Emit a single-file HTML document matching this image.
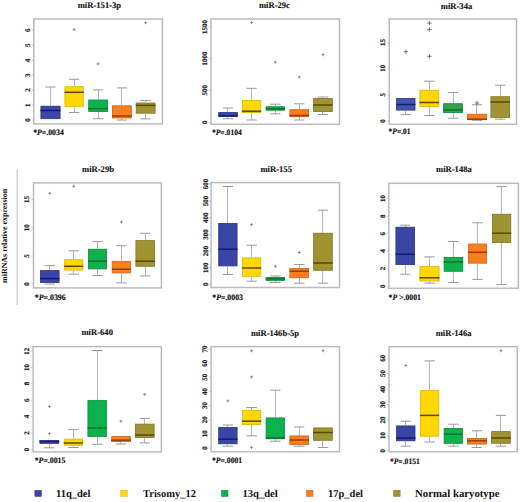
<!DOCTYPE html>
<html><head><meta charset="utf-8"><style>
html,body{margin:0;padding:0;background:#fff;}
body{width:520px;height:502px;overflow:hidden;font-family:"Liberation Serif",serif;}
svg{display:block;text-rendering:geometricPrecision;}
</style></head><body>
<svg width="520" height="502" viewBox="0 0 520 502">
<rect width="520" height="502" fill="#fff"/>
<text x="99.4" y="7.7" font-family='"Liberation Serif", serif' font-weight="bold" font-size="8.6" text-anchor="middle" fill="#111" stroke="#111" stroke-width="0.12">miR-151-3p</text>
<rect x="33.8" y="19.0" width="128.6" height="104.9" fill="none" stroke="#bcbcbc" stroke-width="1.5"/>
<line x1="31.8" y1="120.0" x2="33.8" y2="120.0" stroke="#bcbcbc" stroke-width="0.8"/>
<text transform="translate(30.0,120.0) rotate(-90)" font-family='"Liberation Serif", serif' font-weight="bold" font-size="7.0" text-anchor="middle" fill="#1a1a1a" stroke="#1a1a1a" stroke-width="0.2">0</text>
<line x1="31.8" y1="105.2" x2="33.8" y2="105.2" stroke="#bcbcbc" stroke-width="0.8"/>
<text transform="translate(30.0,105.2) rotate(-90)" font-family='"Liberation Serif", serif' font-weight="bold" font-size="7.0" text-anchor="middle" fill="#1a1a1a" stroke="#1a1a1a" stroke-width="0.2">1</text>
<line x1="31.8" y1="90.0" x2="33.8" y2="90.0" stroke="#bcbcbc" stroke-width="0.8"/>
<text transform="translate(30.0,90.0) rotate(-90)" font-family='"Liberation Serif", serif' font-weight="bold" font-size="7.0" text-anchor="middle" fill="#1a1a1a" stroke="#1a1a1a" stroke-width="0.2">2</text>
<line x1="31.8" y1="75.2" x2="33.8" y2="75.2" stroke="#bcbcbc" stroke-width="0.8"/>
<text transform="translate(30.0,75.2) rotate(-90)" font-family='"Liberation Serif", serif' font-weight="bold" font-size="7.0" text-anchor="middle" fill="#1a1a1a" stroke="#1a1a1a" stroke-width="0.2">3</text>
<line x1="31.8" y1="60.5" x2="33.8" y2="60.5" stroke="#bcbcbc" stroke-width="0.8"/>
<text transform="translate(30.0,60.5) rotate(-90)" font-family='"Liberation Serif", serif' font-weight="bold" font-size="7.0" text-anchor="middle" fill="#1a1a1a" stroke="#1a1a1a" stroke-width="0.2">4</text>
<line x1="31.8" y1="45.3" x2="33.8" y2="45.3" stroke="#bcbcbc" stroke-width="0.8"/>
<text transform="translate(30.0,45.3) rotate(-90)" font-family='"Liberation Serif", serif' font-weight="bold" font-size="7.0" text-anchor="middle" fill="#1a1a1a" stroke="#1a1a1a" stroke-width="0.2">5</text>
<line x1="31.8" y1="30.2" x2="33.8" y2="30.2" stroke="#bcbcbc" stroke-width="0.8"/>
<text transform="translate(30.0,30.2) rotate(-90)" font-family='"Liberation Serif", serif' font-weight="bold" font-size="7.0" text-anchor="middle" fill="#1a1a1a" stroke="#1a1a1a" stroke-width="0.2">6</text>
<line x1="50.5" y1="87.0" x2="50.5" y2="105.8" stroke="#b4b4b4" stroke-width="1"/>
<line x1="45.3" y1="87.0" x2="55.7" y2="87.0" stroke="#9a9a9a" stroke-width="1"/>
<rect x="40.9" y="106.2" width="19.2" height="12.5" fill="#3a46a4" stroke="#2c3588" stroke-width="0.8"/>
<line x1="40.5" y1="110.5" x2="60.5" y2="110.5" stroke="#17187a" stroke-width="1.5"/>
<line x1="74.5" y1="79.3" x2="74.5" y2="86.2" stroke="#b4b4b4" stroke-width="1"/>
<line x1="68.9" y1="79.3" x2="79.3" y2="79.3" stroke="#9a9a9a" stroke-width="1"/>
<line x1="74.5" y1="106.8" x2="74.5" y2="112.5" stroke="#b4b4b4" stroke-width="1"/>
<line x1="68.9" y1="112.5" x2="79.3" y2="112.5" stroke="#9a9a9a" stroke-width="1"/>
<rect x="64.9" y="86.7" width="18.4" height="19.7" fill="#ffd804" stroke="#dcb600" stroke-width="0.8"/>
<line x1="64.5" y1="92.3" x2="83.8" y2="92.3" stroke="#5a4800" stroke-width="1.5"/>
<path d="M72.6 29.6h3.0M74.1 28.1v3.0" stroke="#777" stroke-width="0.8"/>
<line x1="98.5" y1="89.9" x2="98.5" y2="99.6" stroke="#b4b4b4" stroke-width="1"/>
<line x1="92.9" y1="89.9" x2="103.3" y2="89.9" stroke="#9a9a9a" stroke-width="1"/>
<line x1="98.5" y1="111.9" x2="98.5" y2="118.7" stroke="#b4b4b4" stroke-width="1"/>
<line x1="92.9" y1="118.7" x2="103.3" y2="118.7" stroke="#9a9a9a" stroke-width="1"/>
<rect x="88.7" y="100.0" width="18.9" height="11.5" fill="#0db24c" stroke="#0b8c3c" stroke-width="0.8"/>
<line x1="88.2" y1="108.6" x2="108.0" y2="108.6" stroke="#07742e" stroke-width="1.5"/>
<path d="M96.6 63.9h3.0M98.1 62.4v3.0" stroke="#777" stroke-width="0.8"/>
<line x1="121.5" y1="87.9" x2="121.5" y2="105.4" stroke="#b4b4b4" stroke-width="1"/>
<line x1="116.7" y1="87.9" x2="127.1" y2="87.9" stroke="#9a9a9a" stroke-width="1"/>
<line x1="121.5" y1="118.4" x2="121.5" y2="120.0" stroke="#b4b4b4" stroke-width="1"/>
<line x1="116.7" y1="120.0" x2="127.1" y2="120.0" stroke="#9a9a9a" stroke-width="1"/>
<rect x="112.4" y="105.8" width="18.9" height="12.2" fill="#fa7d1e" stroke="#d0641a" stroke-width="0.8"/>
<line x1="112.0" y1="116.0" x2="131.8" y2="116.0" stroke="#9a3c00" stroke-width="1.5"/>
<line x1="145.5" y1="100.5" x2="145.5" y2="102.6" stroke="#b4b4b4" stroke-width="1"/>
<line x1="140.4" y1="100.5" x2="150.8" y2="100.5" stroke="#9a9a9a" stroke-width="1"/>
<line x1="145.5" y1="113.6" x2="145.5" y2="118.9" stroke="#b4b4b4" stroke-width="1"/>
<line x1="140.4" y1="118.9" x2="150.8" y2="118.9" stroke="#9a9a9a" stroke-width="1"/>
<rect x="136.2" y="103.0" width="18.9" height="10.2" fill="#a09432" stroke="#807626" stroke-width="0.8"/>
<line x1="135.8" y1="105.4" x2="155.5" y2="105.4" stroke="#584a00" stroke-width="1.5"/>
<path d="M144.1 22.7h3.0M145.6 21.2v3.0" stroke="#777" stroke-width="0.8"/>
<text x="33.2" y="134.8" textLength="30.6" lengthAdjust="spacingAndGlyphs" font-family='"Liberation Serif", serif' font-weight="bold" font-size="8.2" fill="#111" stroke="#111" stroke-width="0.15">*<tspan font-style="italic">P</tspan>=.0034</text>
<text x="274.4" y="8.0" font-family='"Liberation Serif", serif' font-weight="bold" font-size="8.6" text-anchor="middle" fill="#111" stroke="#111" stroke-width="0.12">miR-29c</text>
<rect x="211.0" y="19.0" width="128.5" height="105.3" fill="none" stroke="#bcbcbc" stroke-width="1.5"/>
<line x1="209.0" y1="122.2" x2="211.0" y2="122.2" stroke="#bcbcbc" stroke-width="0.8"/>
<text transform="translate(206.8,122.2) rotate(-90)" font-family='"Liberation Serif", serif' font-weight="bold" font-size="7.0" text-anchor="middle" fill="#1a1a1a" stroke="#1a1a1a" stroke-width="0.2">0</text>
<line x1="209.0" y1="90.2" x2="211.0" y2="90.2" stroke="#bcbcbc" stroke-width="0.8"/>
<text transform="translate(206.8,90.2) rotate(-90)" font-family='"Liberation Serif", serif' font-weight="bold" font-size="7.0" text-anchor="middle" fill="#1a1a1a" stroke="#1a1a1a" stroke-width="0.2">500</text>
<line x1="209.0" y1="58.6" x2="211.0" y2="58.6" stroke="#bcbcbc" stroke-width="0.8"/>
<text transform="translate(206.8,58.6) rotate(-90)" font-family='"Liberation Serif", serif' font-weight="bold" font-size="7.0" text-anchor="middle" fill="#1a1a1a" stroke="#1a1a1a" stroke-width="0.2">1000</text>
<line x1="209.0" y1="27.0" x2="211.0" y2="27.0" stroke="#bcbcbc" stroke-width="0.8"/>
<text transform="translate(206.8,27.0) rotate(-90)" font-family='"Liberation Serif", serif' font-weight="bold" font-size="7.0" text-anchor="middle" fill="#1a1a1a" stroke="#1a1a1a" stroke-width="0.2">1500</text>
<line x1="227.5" y1="108.0" x2="227.5" y2="112.0" stroke="#b4b4b4" stroke-width="1"/>
<line x1="222.8" y1="108.0" x2="233.2" y2="108.0" stroke="#9a9a9a" stroke-width="1"/>
<line x1="227.5" y1="116.8" x2="227.5" y2="118.8" stroke="#b4b4b4" stroke-width="1"/>
<line x1="222.8" y1="118.8" x2="233.2" y2="118.8" stroke="#9a9a9a" stroke-width="1"/>
<rect x="218.7" y="112.4" width="18.7" height="4.0" fill="#3a46a4" stroke="#2c3588" stroke-width="0.8"/>
<line x1="218.2" y1="115.8" x2="237.8" y2="115.8" stroke="#17187a" stroke-width="1.5"/>
<line x1="251.5" y1="88.3" x2="251.5" y2="100.0" stroke="#b4b4b4" stroke-width="1"/>
<line x1="246.4" y1="88.3" x2="256.8" y2="88.3" stroke="#9a9a9a" stroke-width="1"/>
<line x1="251.5" y1="113.0" x2="251.5" y2="120.0" stroke="#b4b4b4" stroke-width="1"/>
<line x1="246.4" y1="120.0" x2="256.8" y2="120.0" stroke="#9a9a9a" stroke-width="1"/>
<rect x="242.4" y="100.4" width="18.4" height="12.2" fill="#ffd804" stroke="#dcb600" stroke-width="0.8"/>
<line x1="242.0" y1="111.2" x2="261.2" y2="111.2" stroke="#5a4800" stroke-width="1.5"/>
<path d="M250.1 22.5h3.0M251.6 21.0v3.0" stroke="#777" stroke-width="0.8"/>
<line x1="275.5" y1="104.2" x2="275.5" y2="106.2" stroke="#b4b4b4" stroke-width="1"/>
<line x1="270.2" y1="104.2" x2="280.6" y2="104.2" stroke="#9a9a9a" stroke-width="1"/>
<line x1="275.5" y1="110.5" x2="275.5" y2="113.8" stroke="#b4b4b4" stroke-width="1"/>
<line x1="270.2" y1="113.8" x2="280.6" y2="113.8" stroke="#9a9a9a" stroke-width="1"/>
<rect x="266.1" y="106.7" width="18.4" height="3.5" fill="#0db24c" stroke="#0b8c3c" stroke-width="0.8"/>
<line x1="265.8" y1="108.8" x2="285.0" y2="108.8" stroke="#07742e" stroke-width="1.5"/>
<path d="M273.9 62.2h3.0M275.4 60.7v3.0" stroke="#777" stroke-width="0.8"/>
<line x1="299.5" y1="103.8" x2="299.5" y2="109.2" stroke="#b4b4b4" stroke-width="1"/>
<line x1="294.1" y1="103.8" x2="304.4" y2="103.8" stroke="#9a9a9a" stroke-width="1"/>
<line x1="299.5" y1="117.0" x2="299.5" y2="120.0" stroke="#b4b4b4" stroke-width="1"/>
<line x1="294.1" y1="120.0" x2="304.4" y2="120.0" stroke="#9a9a9a" stroke-width="1"/>
<rect x="289.9" y="109.7" width="18.7" height="7.0" fill="#fa7d1e" stroke="#d0641a" stroke-width="0.8"/>
<line x1="289.5" y1="115.5" x2="309.0" y2="115.5" stroke="#9a3c00" stroke-width="1.5"/>
<path d="M297.8 77.0h3.0M299.2 75.5v3.0" stroke="#777" stroke-width="0.8"/>
<line x1="322.5" y1="97.0" x2="322.5" y2="98.0" stroke="#b4b4b4" stroke-width="1"/>
<line x1="317.8" y1="97.0" x2="328.2" y2="97.0" stroke="#9a9a9a" stroke-width="1"/>
<line x1="322.5" y1="112.0" x2="322.5" y2="114.5" stroke="#b4b4b4" stroke-width="1"/>
<line x1="317.8" y1="114.5" x2="328.2" y2="114.5" stroke="#9a9a9a" stroke-width="1"/>
<rect x="313.6" y="98.4" width="18.7" height="13.2" fill="#a09432" stroke="#807626" stroke-width="0.8"/>
<line x1="313.2" y1="105.0" x2="332.8" y2="105.0" stroke="#584a00" stroke-width="1.5"/>
<path d="M321.5 54.8h3.0M323.0 53.3v3.0" stroke="#777" stroke-width="0.8"/>
<text x="211.9" y="134.5" textLength="29.9" lengthAdjust="spacingAndGlyphs" font-family='"Liberation Serif", serif' font-weight="bold" font-size="8.2" fill="#111" stroke="#111" stroke-width="0.15">*<tspan font-style="italic">P</tspan>=.0104</text>
<text x="456.5" y="9.3" font-family='"Liberation Serif", serif' font-weight="bold" font-size="8.6" text-anchor="middle" fill="#111" stroke="#111" stroke-width="0.12">miR-34a</text>
<rect x="389.2" y="19.0" width="127.3" height="105.3" fill="none" stroke="#bcbcbc" stroke-width="1.5"/>
<line x1="387.2" y1="120.9" x2="389.2" y2="120.9" stroke="#bcbcbc" stroke-width="0.8"/>
<text transform="translate(384.5,120.9) rotate(-90)" font-family='"Liberation Serif", serif' font-weight="bold" font-size="7.0" text-anchor="middle" fill="#1a1a1a" stroke="#1a1a1a" stroke-width="0.2">0</text>
<line x1="387.2" y1="94.8" x2="389.2" y2="94.8" stroke="#bcbcbc" stroke-width="0.8"/>
<text transform="translate(384.5,94.8) rotate(-90)" font-family='"Liberation Serif", serif' font-weight="bold" font-size="7.0" text-anchor="middle" fill="#1a1a1a" stroke="#1a1a1a" stroke-width="0.2">5</text>
<line x1="387.2" y1="68.3" x2="389.2" y2="68.3" stroke="#bcbcbc" stroke-width="0.8"/>
<text transform="translate(384.5,68.3) rotate(-90)" font-family='"Liberation Serif", serif' font-weight="bold" font-size="7.0" text-anchor="middle" fill="#1a1a1a" stroke="#1a1a1a" stroke-width="0.2">10</text>
<line x1="387.2" y1="42.5" x2="389.2" y2="42.5" stroke="#bcbcbc" stroke-width="0.8"/>
<text transform="translate(384.5,42.5) rotate(-90)" font-family='"Liberation Serif", serif' font-weight="bold" font-size="7.0" text-anchor="middle" fill="#1a1a1a" stroke="#1a1a1a" stroke-width="0.2">15</text>
<line x1="405.5" y1="110.5" x2="405.5" y2="114.5" stroke="#b4b4b4" stroke-width="1"/>
<line x1="400.7" y1="114.5" x2="411.1" y2="114.5" stroke="#9a9a9a" stroke-width="1"/>
<rect x="396.6" y="98.4" width="18.4" height="11.7" fill="#4058a8" stroke="#2c3588" stroke-width="0.8"/>
<line x1="396.2" y1="104.5" x2="415.5" y2="104.5" stroke="#17187a" stroke-width="1.5"/>
<path d="M403.7 51.7h4.4M405.9 49.5v4.4" stroke="#555" stroke-width="0.8"/>
<line x1="429.5" y1="81.2" x2="429.5" y2="89.8" stroke="#b4b4b4" stroke-width="1"/>
<line x1="424.2" y1="81.2" x2="434.6" y2="81.2" stroke="#9a9a9a" stroke-width="1"/>
<line x1="429.5" y1="107.0" x2="429.5" y2="115.5" stroke="#b4b4b4" stroke-width="1"/>
<line x1="424.2" y1="115.5" x2="434.6" y2="115.5" stroke="#9a9a9a" stroke-width="1"/>
<rect x="419.9" y="90.2" width="18.9" height="16.4" fill="#ffd804" stroke="#dcb600" stroke-width="0.8"/>
<line x1="419.5" y1="102.5" x2="439.2" y2="102.5" stroke="#5a4800" stroke-width="1.5"/>
<path d="M427.2 23.1h4.4M429.4 20.9v4.4" stroke="#555" stroke-width="0.8"/>
<path d="M427.2 29.5h4.4M429.4 27.3v4.4" stroke="#555" stroke-width="0.8"/>
<path d="M427.2 56.3h4.4M429.4 54.1v4.4" stroke="#555" stroke-width="0.8"/>
<line x1="453.5" y1="92.6" x2="453.5" y2="103.2" stroke="#b4b4b4" stroke-width="1"/>
<line x1="447.9" y1="92.6" x2="458.3" y2="92.6" stroke="#9a9a9a" stroke-width="1"/>
<line x1="453.5" y1="113.0" x2="453.5" y2="118.2" stroke="#b4b4b4" stroke-width="1"/>
<line x1="447.9" y1="118.2" x2="458.3" y2="118.2" stroke="#9a9a9a" stroke-width="1"/>
<rect x="443.6" y="103.7" width="18.9" height="8.9" fill="#2fa24a" stroke="#0b8c3c" stroke-width="0.8"/>
<line x1="443.2" y1="110.0" x2="463.0" y2="110.0" stroke="#07742e" stroke-width="1.5"/>
<line x1="476.5" y1="104.8" x2="476.5" y2="113.8" stroke="#b4b4b4" stroke-width="1"/>
<line x1="471.8" y1="104.8" x2="482.2" y2="104.8" stroke="#9a9a9a" stroke-width="1"/>
<line x1="476.5" y1="120.0" x2="476.5" y2="120.3" stroke="#b4b4b4" stroke-width="1"/>
<line x1="471.8" y1="120.3" x2="482.2" y2="120.3" stroke="#9a9a9a" stroke-width="1"/>
<rect x="467.4" y="114.2" width="19.2" height="5.5" fill="#fa7d1e" stroke="#d0641a" stroke-width="0.8"/>
<line x1="467.0" y1="119.2" x2="487.0" y2="119.2" stroke="#9a3c00" stroke-width="1.5"/>
<path d="M474.8 103.0h4.4M477.0 100.8v4.4" stroke="#555" stroke-width="0.8"/>
<line x1="500.5" y1="85.2" x2="500.5" y2="96.2" stroke="#b4b4b4" stroke-width="1"/>
<line x1="495.1" y1="85.2" x2="505.4" y2="85.2" stroke="#9a9a9a" stroke-width="1"/>
<line x1="500.5" y1="118.0" x2="500.5" y2="119.2" stroke="#b4b4b4" stroke-width="1"/>
<line x1="495.1" y1="119.2" x2="505.4" y2="119.2" stroke="#9a9a9a" stroke-width="1"/>
<rect x="490.9" y="96.7" width="18.7" height="20.9" fill="#a09432" stroke="#807626" stroke-width="0.8"/>
<line x1="490.5" y1="102.0" x2="510.0" y2="102.0" stroke="#584a00" stroke-width="1.5"/>
<text x="388.6" y="133.8" textLength="21.9" lengthAdjust="spacingAndGlyphs" font-family='"Liberation Serif", serif' font-weight="bold" font-size="8.2" fill="#111" stroke="#111" stroke-width="0.15">*<tspan font-style="italic">P</tspan>=.01</text>
<text x="98.0" y="171.5" font-family='"Liberation Serif", serif' font-weight="bold" font-size="8.6" text-anchor="middle" fill="#111" stroke="#111" stroke-width="0.12">miR-29b</text>
<rect x="33.5" y="182.9" width="127.9" height="105.0" fill="none" stroke="#bcbcbc" stroke-width="1.5"/>
<line x1="31.5" y1="284.0" x2="33.5" y2="284.0" stroke="#bcbcbc" stroke-width="0.8"/>
<text transform="translate(29.2,284.0) rotate(-90)" font-family='"Liberation Serif", serif' font-weight="bold" font-size="7.0" text-anchor="middle" fill="#1a1a1a" stroke="#1a1a1a" stroke-width="0.2">0</text>
<line x1="31.5" y1="256.0" x2="33.5" y2="256.0" stroke="#bcbcbc" stroke-width="0.8"/>
<text transform="translate(29.2,256.0) rotate(-90)" font-family='"Liberation Serif", serif' font-weight="bold" font-size="7.0" text-anchor="middle" fill="#1a1a1a" stroke="#1a1a1a" stroke-width="0.2">5</text>
<line x1="31.5" y1="227.8" x2="33.5" y2="227.8" stroke="#bcbcbc" stroke-width="0.8"/>
<text transform="translate(29.2,227.8) rotate(-90)" font-family='"Liberation Serif", serif' font-weight="bold" font-size="7.0" text-anchor="middle" fill="#1a1a1a" stroke="#1a1a1a" stroke-width="0.2">10</text>
<line x1="31.5" y1="199.5" x2="33.5" y2="199.5" stroke="#bcbcbc" stroke-width="0.8"/>
<text transform="translate(29.2,199.5) rotate(-90)" font-family='"Liberation Serif", serif' font-weight="bold" font-size="7.0" text-anchor="middle" fill="#1a1a1a" stroke="#1a1a1a" stroke-width="0.2">15</text>
<line x1="49.5" y1="265.6" x2="49.5" y2="270.2" stroke="#b4b4b4" stroke-width="1"/>
<line x1="44.5" y1="265.6" x2="55.0" y2="265.6" stroke="#9a9a9a" stroke-width="1"/>
<line x1="49.5" y1="282.9" x2="49.5" y2="284.0" stroke="#b4b4b4" stroke-width="1"/>
<line x1="44.5" y1="284.0" x2="55.0" y2="284.0" stroke="#9a9a9a" stroke-width="1"/>
<rect x="40.4" y="270.6" width="18.7" height="11.9" fill="#3a46a4" stroke="#2c3588" stroke-width="0.8"/>
<line x1="40.0" y1="278.6" x2="59.5" y2="278.6" stroke="#17187a" stroke-width="1.5"/>
<path d="M48.2 193.3h3.0M49.8 191.8v3.0" stroke="#777" stroke-width="0.8"/>
<line x1="73.5" y1="250.8" x2="73.5" y2="259.3" stroke="#b4b4b4" stroke-width="1"/>
<line x1="68.5" y1="250.8" x2="79.0" y2="250.8" stroke="#9a9a9a" stroke-width="1"/>
<line x1="73.5" y1="270.5" x2="73.5" y2="274.2" stroke="#b4b4b4" stroke-width="1"/>
<line x1="68.5" y1="274.2" x2="79.0" y2="274.2" stroke="#9a9a9a" stroke-width="1"/>
<rect x="64.7" y="259.7" width="18.2" height="10.4" fill="#ffd804" stroke="#dcb600" stroke-width="0.8"/>
<line x1="64.2" y1="266.3" x2="83.2" y2="266.3" stroke="#5a4800" stroke-width="1.5"/>
<path d="M72.2 186.3h3.0M73.8 184.8v3.0" stroke="#777" stroke-width="0.8"/>
<line x1="97.5" y1="241.6" x2="97.5" y2="248.8" stroke="#b4b4b4" stroke-width="1"/>
<line x1="92.3" y1="241.6" x2="102.7" y2="241.6" stroke="#9a9a9a" stroke-width="1"/>
<line x1="97.5" y1="269.3" x2="97.5" y2="275.5" stroke="#b4b4b4" stroke-width="1"/>
<line x1="92.3" y1="275.5" x2="102.7" y2="275.5" stroke="#9a9a9a" stroke-width="1"/>
<rect x="88.4" y="249.2" width="18.2" height="19.7" fill="#0db24c" stroke="#0b8c3c" stroke-width="0.8"/>
<line x1="88.0" y1="261.2" x2="107.0" y2="261.2" stroke="#07742e" stroke-width="1.5"/>
<line x1="121.5" y1="245.7" x2="121.5" y2="260.9" stroke="#b4b4b4" stroke-width="1"/>
<line x1="116.2" y1="245.7" x2="126.6" y2="245.7" stroke="#9a9a9a" stroke-width="1"/>
<line x1="121.5" y1="273.3" x2="121.5" y2="282.9" stroke="#b4b4b4" stroke-width="1"/>
<line x1="116.2" y1="282.9" x2="126.6" y2="282.9" stroke="#9a9a9a" stroke-width="1"/>
<rect x="112.2" y="261.3" width="18.4" height="11.6" fill="#fa7d1e" stroke="#d0641a" stroke-width="0.8"/>
<line x1="111.8" y1="269.2" x2="131.0" y2="269.2" stroke="#9a3c00" stroke-width="1.5"/>
<path d="M119.9 222.0h3.0M121.4 220.5v3.0" stroke="#777" stroke-width="0.8"/>
<line x1="145.5" y1="233.3" x2="145.5" y2="240.2" stroke="#b4b4b4" stroke-width="1"/>
<line x1="140.1" y1="233.3" x2="150.4" y2="233.3" stroke="#9a9a9a" stroke-width="1"/>
<line x1="145.5" y1="266.7" x2="145.5" y2="275.9" stroke="#b4b4b4" stroke-width="1"/>
<line x1="140.1" y1="275.9" x2="150.4" y2="275.9" stroke="#9a9a9a" stroke-width="1"/>
<rect x="135.9" y="240.6" width="18.7" height="25.7" fill="#a09432" stroke="#807626" stroke-width="0.8"/>
<line x1="135.5" y1="261.2" x2="155.0" y2="261.2" stroke="#584a00" stroke-width="1.5"/>
<text x="34.7" y="299.6" textLength="31.1" lengthAdjust="spacingAndGlyphs" font-family='"Liberation Serif", serif' font-weight="bold" font-size="8.2" fill="#111" stroke="#111" stroke-width="0.15">*<tspan font-style="italic">P</tspan>=.0396</text>
<text x="276.2" y="171.5" font-family='"Liberation Serif", serif' font-weight="bold" font-size="8.6" text-anchor="middle" fill="#111" stroke="#111" stroke-width="0.12">miR-155</text>
<rect x="211.1" y="182.6" width="128.4" height="104.9" fill="none" stroke="#bcbcbc" stroke-width="1.5"/>
<line x1="209.1" y1="284.3" x2="211.1" y2="284.3" stroke="#bcbcbc" stroke-width="0.8"/>
<text transform="translate(207.7,284.3) rotate(-90)" font-family='"Liberation Serif", serif' font-weight="bold" font-size="7.0" text-anchor="middle" fill="#1a1a1a" stroke="#1a1a1a" stroke-width="0.2">0</text>
<line x1="209.1" y1="267.7" x2="211.1" y2="267.7" stroke="#bcbcbc" stroke-width="0.8"/>
<text transform="translate(207.7,267.7) rotate(-90)" font-family='"Liberation Serif", serif' font-weight="bold" font-size="7.0" text-anchor="middle" fill="#1a1a1a" stroke="#1a1a1a" stroke-width="0.2">100</text>
<line x1="209.1" y1="251.1" x2="211.1" y2="251.1" stroke="#bcbcbc" stroke-width="0.8"/>
<text transform="translate(207.7,251.1) rotate(-90)" font-family='"Liberation Serif", serif' font-weight="bold" font-size="7.0" text-anchor="middle" fill="#1a1a1a" stroke="#1a1a1a" stroke-width="0.2">200</text>
<line x1="209.1" y1="234.6" x2="211.1" y2="234.6" stroke="#bcbcbc" stroke-width="0.8"/>
<text transform="translate(207.7,234.6) rotate(-90)" font-family='"Liberation Serif", serif' font-weight="bold" font-size="7.0" text-anchor="middle" fill="#1a1a1a" stroke="#1a1a1a" stroke-width="0.2">300</text>
<line x1="209.1" y1="217.8" x2="211.1" y2="217.8" stroke="#bcbcbc" stroke-width="0.8"/>
<text transform="translate(207.7,217.8) rotate(-90)" font-family='"Liberation Serif", serif' font-weight="bold" font-size="7.0" text-anchor="middle" fill="#1a1a1a" stroke="#1a1a1a" stroke-width="0.2">400</text>
<line x1="209.1" y1="200.9" x2="211.1" y2="200.9" stroke="#bcbcbc" stroke-width="0.8"/>
<text transform="translate(207.7,200.9) rotate(-90)" font-family='"Liberation Serif", serif' font-weight="bold" font-size="7.0" text-anchor="middle" fill="#1a1a1a" stroke="#1a1a1a" stroke-width="0.2">500</text>
<line x1="209.1" y1="184.0" x2="211.1" y2="184.0" stroke="#bcbcbc" stroke-width="0.8"/>
<text transform="translate(207.7,184.0) rotate(-90)" font-family='"Liberation Serif", serif' font-weight="bold" font-size="7.0" text-anchor="middle" fill="#1a1a1a" stroke="#1a1a1a" stroke-width="0.2">600</text>
<line x1="227.5" y1="186.5" x2="227.5" y2="223.0" stroke="#b4b4b4" stroke-width="1"/>
<line x1="222.7" y1="186.5" x2="233.1" y2="186.5" stroke="#9a9a9a" stroke-width="1"/>
<line x1="227.5" y1="266.2" x2="227.5" y2="274.5" stroke="#b4b4b4" stroke-width="1"/>
<line x1="222.7" y1="274.5" x2="233.1" y2="274.5" stroke="#9a9a9a" stroke-width="1"/>
<rect x="218.7" y="223.4" width="18.4" height="42.5" fill="#3a46a4" stroke="#2c3588" stroke-width="0.8"/>
<line x1="218.2" y1="249.2" x2="237.5" y2="249.2" stroke="#17187a" stroke-width="1.5"/>
<line x1="251.5" y1="245.2" x2="251.5" y2="257.5" stroke="#b4b4b4" stroke-width="1"/>
<line x1="246.4" y1="245.2" x2="256.8" y2="245.2" stroke="#9a9a9a" stroke-width="1"/>
<line x1="251.5" y1="276.8" x2="251.5" y2="281.2" stroke="#b4b4b4" stroke-width="1"/>
<line x1="246.4" y1="281.2" x2="256.8" y2="281.2" stroke="#9a9a9a" stroke-width="1"/>
<rect x="242.4" y="257.9" width="18.4" height="18.4" fill="#ffd804" stroke="#dcb600" stroke-width="0.8"/>
<line x1="242.0" y1="268.0" x2="261.2" y2="268.0" stroke="#5a4800" stroke-width="1.5"/>
<path d="M250.1 224.6h3.0M251.6 223.1v3.0" stroke="#777" stroke-width="0.8"/>
<line x1="275.5" y1="276.0" x2="275.5" y2="277.0" stroke="#b4b4b4" stroke-width="1"/>
<line x1="270.2" y1="276.0" x2="280.6" y2="276.0" stroke="#9a9a9a" stroke-width="1"/>
<line x1="275.5" y1="280.8" x2="275.5" y2="282.5" stroke="#b4b4b4" stroke-width="1"/>
<line x1="270.2" y1="282.5" x2="280.6" y2="282.5" stroke="#9a9a9a" stroke-width="1"/>
<rect x="266.1" y="277.4" width="18.4" height="3.0" fill="#0db24c" stroke="#0b8c3c" stroke-width="0.8"/>
<line x1="265.8" y1="278.8" x2="285.0" y2="278.8" stroke="#07742e" stroke-width="1.5"/>
<path d="M273.9 266.2h3.0M275.4 264.8v3.0" stroke="#777" stroke-width="0.8"/>
<line x1="299.5" y1="264.5" x2="299.5" y2="268.0" stroke="#b4b4b4" stroke-width="1"/>
<line x1="294.1" y1="264.5" x2="304.4" y2="264.5" stroke="#9a9a9a" stroke-width="1"/>
<line x1="299.5" y1="278.2" x2="299.5" y2="283.2" stroke="#b4b4b4" stroke-width="1"/>
<line x1="294.1" y1="283.2" x2="304.4" y2="283.2" stroke="#9a9a9a" stroke-width="1"/>
<rect x="289.9" y="268.4" width="18.7" height="9.4" fill="#fa7d1e" stroke="#d0641a" stroke-width="0.8"/>
<line x1="289.5" y1="271.2" x2="309.0" y2="271.2" stroke="#9a3c00" stroke-width="1.5"/>
<path d="M297.8 252.5h3.0M299.2 251.0v3.0" stroke="#777" stroke-width="0.8"/>
<line x1="322.5" y1="210.2" x2="322.5" y2="232.8" stroke="#b4b4b4" stroke-width="1"/>
<line x1="317.8" y1="210.2" x2="328.2" y2="210.2" stroke="#9a9a9a" stroke-width="1"/>
<line x1="322.5" y1="270.8" x2="322.5" y2="283.2" stroke="#b4b4b4" stroke-width="1"/>
<line x1="317.8" y1="283.2" x2="328.2" y2="283.2" stroke="#9a9a9a" stroke-width="1"/>
<rect x="313.6" y="233.2" width="18.7" height="37.1" fill="#a09432" stroke="#807626" stroke-width="0.8"/>
<line x1="313.2" y1="263.0" x2="332.8" y2="263.0" stroke="#584a00" stroke-width="1.5"/>
<text x="212.3" y="299.6" textLength="30.7" lengthAdjust="spacingAndGlyphs" font-family='"Liberation Serif", serif' font-weight="bold" font-size="8.2" fill="#111" stroke="#111" stroke-width="0.15">*<tspan font-style="italic">P</tspan>=.0003</text>
<text x="453.9" y="171.5" font-family='"Liberation Serif", serif' font-weight="bold" font-size="8.6" text-anchor="middle" fill="#111" stroke="#111" stroke-width="0.12">miR-148a</text>
<rect x="388.8" y="183.3" width="129.6" height="105.0" fill="none" stroke="#bcbcbc" stroke-width="1.5"/>
<line x1="386.8" y1="286.3" x2="388.8" y2="286.3" stroke="#bcbcbc" stroke-width="0.8"/>
<text transform="translate(384.5,286.3) rotate(-90)" font-family='"Liberation Serif", serif' font-weight="bold" font-size="7.0" text-anchor="middle" fill="#1a1a1a" stroke="#1a1a1a" stroke-width="0.2">0</text>
<line x1="386.8" y1="268.6" x2="388.8" y2="268.6" stroke="#bcbcbc" stroke-width="0.8"/>
<text transform="translate(384.5,268.6) rotate(-90)" font-family='"Liberation Serif", serif' font-weight="bold" font-size="7.0" text-anchor="middle" fill="#1a1a1a" stroke="#1a1a1a" stroke-width="0.2">2</text>
<line x1="386.8" y1="251.1" x2="388.8" y2="251.1" stroke="#bcbcbc" stroke-width="0.8"/>
<text transform="translate(384.5,251.1) rotate(-90)" font-family='"Liberation Serif", serif' font-weight="bold" font-size="7.0" text-anchor="middle" fill="#1a1a1a" stroke="#1a1a1a" stroke-width="0.2">4</text>
<line x1="386.8" y1="233.8" x2="388.8" y2="233.8" stroke="#bcbcbc" stroke-width="0.8"/>
<text transform="translate(384.5,233.8) rotate(-90)" font-family='"Liberation Serif", serif' font-weight="bold" font-size="7.0" text-anchor="middle" fill="#1a1a1a" stroke="#1a1a1a" stroke-width="0.2">6</text>
<line x1="386.8" y1="216.3" x2="388.8" y2="216.3" stroke="#bcbcbc" stroke-width="0.8"/>
<text transform="translate(384.5,216.3) rotate(-90)" font-family='"Liberation Serif", serif' font-weight="bold" font-size="7.0" text-anchor="middle" fill="#1a1a1a" stroke="#1a1a1a" stroke-width="0.2">8</text>
<line x1="386.8" y1="198.5" x2="388.8" y2="198.5" stroke="#bcbcbc" stroke-width="0.8"/>
<text transform="translate(384.5,198.5) rotate(-90)" font-family='"Liberation Serif", serif' font-weight="bold" font-size="7.0" text-anchor="middle" fill="#1a1a1a" stroke="#1a1a1a" stroke-width="0.2">10</text>
<line x1="405.5" y1="225.2" x2="405.5" y2="226.8" stroke="#b4b4b4" stroke-width="1"/>
<line x1="400.1" y1="225.2" x2="410.4" y2="225.2" stroke="#9a9a9a" stroke-width="1"/>
<line x1="405.5" y1="265.0" x2="405.5" y2="274.2" stroke="#b4b4b4" stroke-width="1"/>
<line x1="400.1" y1="274.2" x2="410.4" y2="274.2" stroke="#9a9a9a" stroke-width="1"/>
<rect x="395.9" y="227.2" width="18.7" height="37.4" fill="#3a46a4" stroke="#2c3588" stroke-width="0.8"/>
<line x1="395.5" y1="254.2" x2="415.0" y2="254.2" stroke="#17187a" stroke-width="1.5"/>
<line x1="429.5" y1="256.9" x2="429.5" y2="266.2" stroke="#b4b4b4" stroke-width="1"/>
<line x1="424.3" y1="256.9" x2="434.7" y2="256.9" stroke="#9a9a9a" stroke-width="1"/>
<line x1="429.5" y1="281.5" x2="429.5" y2="283.1" stroke="#b4b4b4" stroke-width="1"/>
<line x1="424.3" y1="283.1" x2="434.7" y2="283.1" stroke="#9a9a9a" stroke-width="1"/>
<rect x="419.9" y="266.6" width="19.2" height="14.4" fill="#ffd804" stroke="#dcb600" stroke-width="0.8"/>
<line x1="419.5" y1="277.8" x2="439.5" y2="277.8" stroke="#5a4800" stroke-width="1.5"/>
<line x1="453.5" y1="241.5" x2="453.5" y2="257.0" stroke="#b4b4b4" stroke-width="1"/>
<line x1="448.3" y1="241.5" x2="458.7" y2="241.5" stroke="#9a9a9a" stroke-width="1"/>
<line x1="453.5" y1="271.7" x2="453.5" y2="282.5" stroke="#b4b4b4" stroke-width="1"/>
<line x1="448.3" y1="282.5" x2="458.7" y2="282.5" stroke="#9a9a9a" stroke-width="1"/>
<rect x="444.1" y="257.4" width="18.7" height="13.9" fill="#0db24c" stroke="#0b8c3c" stroke-width="0.8"/>
<line x1="443.8" y1="262.0" x2="463.2" y2="262.0" stroke="#07742e" stroke-width="1.5"/>
<line x1="477.5" y1="222.8" x2="477.5" y2="243.6" stroke="#b4b4b4" stroke-width="1"/>
<line x1="472.3" y1="222.8" x2="482.7" y2="222.8" stroke="#9a9a9a" stroke-width="1"/>
<line x1="477.5" y1="263.6" x2="477.5" y2="279.4" stroke="#b4b4b4" stroke-width="1"/>
<line x1="472.3" y1="279.4" x2="482.7" y2="279.4" stroke="#9a9a9a" stroke-width="1"/>
<rect x="468.4" y="244.0" width="18.2" height="19.2" fill="#fa7d1e" stroke="#d0641a" stroke-width="0.8"/>
<line x1="468.0" y1="252.3" x2="487.0" y2="252.3" stroke="#9a3c00" stroke-width="1.5"/>
<line x1="501.5" y1="186.6" x2="501.5" y2="213.8" stroke="#b4b4b4" stroke-width="1"/>
<line x1="496.4" y1="186.6" x2="506.8" y2="186.6" stroke="#9a9a9a" stroke-width="1"/>
<line x1="501.5" y1="243.0" x2="501.5" y2="284.6" stroke="#b4b4b4" stroke-width="1"/>
<line x1="496.4" y1="284.6" x2="506.8" y2="284.6" stroke="#9a9a9a" stroke-width="1"/>
<rect x="492.4" y="214.2" width="18.4" height="28.4" fill="#a09432" stroke="#807626" stroke-width="0.8"/>
<line x1="492.0" y1="233.2" x2="511.2" y2="233.2" stroke="#584a00" stroke-width="1.5"/>
<text x="388.5" y="300.0" textLength="32.5" lengthAdjust="spacingAndGlyphs" font-family='"Liberation Serif", serif' font-weight="bold" font-size="8.2" fill="#111" stroke="#111" stroke-width="0.15">*<tspan font-style="italic">P</tspan> >.0001</text>
<text x="97.2" y="335.0" font-family='"Liberation Serif", serif' font-weight="bold" font-size="8.6" text-anchor="middle" fill="#111" stroke="#111" stroke-width="0.12">miR-640</text>
<rect x="33.1" y="346.6" width="128.3" height="105.3" fill="none" stroke="#bcbcbc" stroke-width="1.5"/>
<line x1="31.1" y1="449.5" x2="33.1" y2="449.5" stroke="#bcbcbc" stroke-width="0.8"/>
<text transform="translate(28.7,449.5) rotate(-90)" font-family='"Liberation Serif", serif' font-weight="bold" font-size="7.0" text-anchor="middle" fill="#1a1a1a" stroke="#1a1a1a" stroke-width="0.2">0</text>
<line x1="31.1" y1="433.1" x2="33.1" y2="433.1" stroke="#bcbcbc" stroke-width="0.8"/>
<text transform="translate(28.7,433.1) rotate(-90)" font-family='"Liberation Serif", serif' font-weight="bold" font-size="7.0" text-anchor="middle" fill="#1a1a1a" stroke="#1a1a1a" stroke-width="0.2">2</text>
<line x1="31.1" y1="416.6" x2="33.1" y2="416.6" stroke="#bcbcbc" stroke-width="0.8"/>
<text transform="translate(28.7,416.6) rotate(-90)" font-family='"Liberation Serif", serif' font-weight="bold" font-size="7.0" text-anchor="middle" fill="#1a1a1a" stroke="#1a1a1a" stroke-width="0.2">4</text>
<line x1="31.1" y1="400.2" x2="33.1" y2="400.2" stroke="#bcbcbc" stroke-width="0.8"/>
<text transform="translate(28.7,400.2) rotate(-90)" font-family='"Liberation Serif", serif' font-weight="bold" font-size="7.0" text-anchor="middle" fill="#1a1a1a" stroke="#1a1a1a" stroke-width="0.2">6</text>
<line x1="31.1" y1="383.6" x2="33.1" y2="383.6" stroke="#bcbcbc" stroke-width="0.8"/>
<text transform="translate(28.7,383.6) rotate(-90)" font-family='"Liberation Serif", serif' font-weight="bold" font-size="7.0" text-anchor="middle" fill="#1a1a1a" stroke="#1a1a1a" stroke-width="0.2">8</text>
<line x1="31.1" y1="367.4" x2="33.1" y2="367.4" stroke="#bcbcbc" stroke-width="0.8"/>
<text transform="translate(28.7,367.4) rotate(-90)" font-family='"Liberation Serif", serif' font-weight="bold" font-size="7.0" text-anchor="middle" fill="#1a1a1a" stroke="#1a1a1a" stroke-width="0.2">10</text>
<line x1="31.1" y1="351.2" x2="33.1" y2="351.2" stroke="#bcbcbc" stroke-width="0.8"/>
<text transform="translate(28.7,351.2) rotate(-90)" font-family='"Liberation Serif", serif' font-weight="bold" font-size="7.0" text-anchor="middle" fill="#1a1a1a" stroke="#1a1a1a" stroke-width="0.2">12</text>
<line x1="49.5" y1="443.8" x2="49.5" y2="447.8" stroke="#b4b4b4" stroke-width="1"/>
<line x1="44.2" y1="447.8" x2="54.6" y2="447.8" stroke="#9a9a9a" stroke-width="1"/>
<rect x="39.9" y="440.4" width="18.9" height="3.0" fill="#3a46a4" stroke="#2c3588" stroke-width="0.8"/>
<line x1="39.5" y1="441.5" x2="59.2" y2="441.5" stroke="#17187a" stroke-width="1.5"/>
<path d="M47.9 406.5h3.0M49.4 405.0v3.0" stroke="#777" stroke-width="0.8"/>
<path d="M47.9 433.6h3.0M49.4 432.1v3.0" stroke="#777" stroke-width="0.8"/>
<line x1="73.5" y1="429.6" x2="73.5" y2="438.8" stroke="#b4b4b4" stroke-width="1"/>
<line x1="68.2" y1="429.6" x2="78.6" y2="429.6" stroke="#9a9a9a" stroke-width="1"/>
<line x1="73.5" y1="445.8" x2="73.5" y2="447.5" stroke="#b4b4b4" stroke-width="1"/>
<line x1="68.2" y1="447.5" x2="78.6" y2="447.5" stroke="#9a9a9a" stroke-width="1"/>
<rect x="64.2" y="439.1" width="18.4" height="6.2" fill="#ffd804" stroke="#dcb600" stroke-width="0.8"/>
<line x1="63.8" y1="443.0" x2="83.0" y2="443.0" stroke="#5a4800" stroke-width="1.5"/>
<line x1="97.5" y1="350.5" x2="97.5" y2="400.2" stroke="#b4b4b4" stroke-width="1"/>
<line x1="92.0" y1="350.5" x2="102.5" y2="350.5" stroke="#9a9a9a" stroke-width="1"/>
<line x1="97.5" y1="436.8" x2="97.5" y2="444.3" stroke="#b4b4b4" stroke-width="1"/>
<line x1="92.0" y1="444.3" x2="102.5" y2="444.3" stroke="#9a9a9a" stroke-width="1"/>
<rect x="87.9" y="400.6" width="18.7" height="35.8" fill="#0db24c" stroke="#0b8c3c" stroke-width="0.8"/>
<line x1="87.5" y1="428.0" x2="107.0" y2="428.0" stroke="#07742e" stroke-width="1.5"/>
<line x1="120.5" y1="442.0" x2="120.5" y2="444.0" stroke="#b4b4b4" stroke-width="1"/>
<line x1="115.8" y1="444.0" x2="126.2" y2="444.0" stroke="#9a9a9a" stroke-width="1"/>
<rect x="111.7" y="436.6" width="18.7" height="5.0" fill="#fa7d1e" stroke="#d0641a" stroke-width="0.8"/>
<line x1="111.2" y1="440.2" x2="130.8" y2="440.2" stroke="#9a3c00" stroke-width="1.5"/>
<path d="M119.5 421.2h3.0M121.0 419.7v3.0" stroke="#777" stroke-width="0.8"/>
<line x1="144.5" y1="418.4" x2="144.5" y2="423.8" stroke="#b4b4b4" stroke-width="1"/>
<line x1="139.6" y1="418.4" x2="149.9" y2="418.4" stroke="#9a9a9a" stroke-width="1"/>
<line x1="144.5" y1="438.0" x2="144.5" y2="442.9" stroke="#b4b4b4" stroke-width="1"/>
<line x1="139.6" y1="442.9" x2="149.9" y2="442.9" stroke="#9a9a9a" stroke-width="1"/>
<rect x="135.4" y="424.1" width="18.7" height="13.4" fill="#a09432" stroke="#807626" stroke-width="0.8"/>
<line x1="135.0" y1="435.0" x2="154.5" y2="435.0" stroke="#584a00" stroke-width="1.5"/>
<path d="M143.2 394.4h3.0M144.8 392.9v3.0" stroke="#777" stroke-width="0.8"/>
<text x="34.7" y="463.2" textLength="30.7" lengthAdjust="spacingAndGlyphs" font-family='"Liberation Serif", serif' font-weight="bold" font-size="8.2" fill="#111" stroke="#111" stroke-width="0.15">*<tspan font-style="italic">P</tspan>=.0015</text>
<text x="275.0" y="335.7" font-family='"Liberation Serif", serif' font-weight="bold" font-size="8.6" text-anchor="middle" fill="#111" stroke="#111" stroke-width="0.12">miR-146b-5p</text>
<rect x="211.1" y="346.6" width="128.4" height="105.1" fill="none" stroke="#bcbcbc" stroke-width="1.5"/>
<line x1="209.1" y1="448.0" x2="211.1" y2="448.0" stroke="#bcbcbc" stroke-width="0.8"/>
<text transform="translate(207.0,448.0) rotate(-90)" font-family='"Liberation Serif", serif' font-weight="bold" font-size="7.0" text-anchor="middle" fill="#1a1a1a" stroke="#1a1a1a" stroke-width="0.2">0</text>
<line x1="209.1" y1="433.8" x2="211.1" y2="433.8" stroke="#bcbcbc" stroke-width="0.8"/>
<text transform="translate(207.0,433.8) rotate(-90)" font-family='"Liberation Serif", serif' font-weight="bold" font-size="7.0" text-anchor="middle" fill="#1a1a1a" stroke="#1a1a1a" stroke-width="0.2">10</text>
<line x1="209.1" y1="419.7" x2="211.1" y2="419.7" stroke="#bcbcbc" stroke-width="0.8"/>
<text transform="translate(207.0,419.7) rotate(-90)" font-family='"Liberation Serif", serif' font-weight="bold" font-size="7.0" text-anchor="middle" fill="#1a1a1a" stroke="#1a1a1a" stroke-width="0.2">20</text>
<line x1="209.1" y1="405.5" x2="211.1" y2="405.5" stroke="#bcbcbc" stroke-width="0.8"/>
<text transform="translate(207.0,405.5) rotate(-90)" font-family='"Liberation Serif", serif' font-weight="bold" font-size="7.0" text-anchor="middle" fill="#1a1a1a" stroke="#1a1a1a" stroke-width="0.2">30</text>
<line x1="209.1" y1="391.4" x2="211.1" y2="391.4" stroke="#bcbcbc" stroke-width="0.8"/>
<text transform="translate(207.0,391.4) rotate(-90)" font-family='"Liberation Serif", serif' font-weight="bold" font-size="7.0" text-anchor="middle" fill="#1a1a1a" stroke="#1a1a1a" stroke-width="0.2">40</text>
<line x1="209.1" y1="377.3" x2="211.1" y2="377.3" stroke="#bcbcbc" stroke-width="0.8"/>
<text transform="translate(207.0,377.3) rotate(-90)" font-family='"Liberation Serif", serif' font-weight="bold" font-size="7.0" text-anchor="middle" fill="#1a1a1a" stroke="#1a1a1a" stroke-width="0.2">50</text>
<line x1="209.1" y1="363.2" x2="211.1" y2="363.2" stroke="#bcbcbc" stroke-width="0.8"/>
<text transform="translate(207.0,363.2) rotate(-90)" font-family='"Liberation Serif", serif' font-weight="bold" font-size="7.0" text-anchor="middle" fill="#1a1a1a" stroke="#1a1a1a" stroke-width="0.2">60</text>
<line x1="209.1" y1="349.1" x2="211.1" y2="349.1" stroke="#bcbcbc" stroke-width="0.8"/>
<text transform="translate(207.0,349.1) rotate(-90)" font-family='"Liberation Serif", serif' font-weight="bold" font-size="7.0" text-anchor="middle" fill="#1a1a1a" stroke="#1a1a1a" stroke-width="0.2">70</text>
<line x1="227.5" y1="425.0" x2="227.5" y2="427.0" stroke="#b4b4b4" stroke-width="1"/>
<line x1="222.7" y1="425.0" x2="233.1" y2="425.0" stroke="#9a9a9a" stroke-width="1"/>
<line x1="227.5" y1="444.2" x2="227.5" y2="446.2" stroke="#b4b4b4" stroke-width="1"/>
<line x1="222.7" y1="446.2" x2="233.1" y2="446.2" stroke="#9a9a9a" stroke-width="1"/>
<rect x="218.7" y="427.4" width="18.4" height="16.4" fill="#3a46a4" stroke="#2c3588" stroke-width="0.8"/>
<line x1="218.2" y1="439.2" x2="237.5" y2="439.2" stroke="#17187a" stroke-width="1.5"/>
<path d="M226.4 400.9h3.0M227.9 399.4v3.0" stroke="#777" stroke-width="0.8"/>
<line x1="251.5" y1="407.5" x2="251.5" y2="410.0" stroke="#b4b4b4" stroke-width="1"/>
<line x1="246.4" y1="407.5" x2="256.8" y2="407.5" stroke="#9a9a9a" stroke-width="1"/>
<line x1="251.5" y1="425.0" x2="251.5" y2="435.8" stroke="#b4b4b4" stroke-width="1"/>
<line x1="246.4" y1="435.8" x2="256.8" y2="435.8" stroke="#9a9a9a" stroke-width="1"/>
<rect x="242.4" y="410.4" width="18.4" height="14.2" fill="#ffd804" stroke="#dcb600" stroke-width="0.8"/>
<line x1="242.0" y1="421.2" x2="261.2" y2="421.2" stroke="#5a4800" stroke-width="1.5"/>
<path d="M250.1 350.8h3.0M251.6 349.3v3.0" stroke="#777" stroke-width="0.8"/>
<path d="M250.1 376.9h3.0M251.6 375.4v3.0" stroke="#777" stroke-width="0.8"/>
<path d="M250.1 447.5h3.0M251.6 446.0v3.0" stroke="#777" stroke-width="0.8"/>
<line x1="275.5" y1="390.2" x2="275.5" y2="417.5" stroke="#b4b4b4" stroke-width="1"/>
<line x1="270.2" y1="390.2" x2="280.6" y2="390.2" stroke="#9a9a9a" stroke-width="1"/>
<line x1="275.5" y1="439.2" x2="275.5" y2="441.2" stroke="#b4b4b4" stroke-width="1"/>
<line x1="270.2" y1="441.2" x2="280.6" y2="441.2" stroke="#9a9a9a" stroke-width="1"/>
<rect x="266.1" y="417.9" width="18.4" height="20.9" fill="#0db24c" stroke="#0b8c3c" stroke-width="0.8"/>
<line x1="265.8" y1="438.0" x2="285.0" y2="438.0" stroke="#07742e" stroke-width="1.5"/>
<line x1="299.5" y1="427.0" x2="299.5" y2="435.5" stroke="#b4b4b4" stroke-width="1"/>
<line x1="294.1" y1="427.0" x2="304.4" y2="427.0" stroke="#9a9a9a" stroke-width="1"/>
<line x1="299.5" y1="445.0" x2="299.5" y2="446.2" stroke="#b4b4b4" stroke-width="1"/>
<line x1="294.1" y1="446.2" x2="304.4" y2="446.2" stroke="#9a9a9a" stroke-width="1"/>
<rect x="289.9" y="435.9" width="18.7" height="8.7" fill="#fa7d1e" stroke="#d0641a" stroke-width="0.8"/>
<line x1="289.5" y1="440.0" x2="309.0" y2="440.0" stroke="#9a3c00" stroke-width="1.5"/>
<line x1="322.5" y1="440.8" x2="322.5" y2="447.5" stroke="#b4b4b4" stroke-width="1"/>
<line x1="317.8" y1="447.5" x2="328.2" y2="447.5" stroke="#9a9a9a" stroke-width="1"/>
<rect x="313.6" y="427.9" width="18.7" height="12.4" fill="#a09432" stroke="#807626" stroke-width="0.8"/>
<line x1="313.2" y1="432.5" x2="332.8" y2="432.5" stroke="#584a00" stroke-width="1.5"/>
<path d="M321.5 350.8h3.0M323.0 349.3v3.0" stroke="#777" stroke-width="0.8"/>
<text x="211.9" y="463.1" textLength="30.3" lengthAdjust="spacingAndGlyphs" font-family='"Liberation Serif", serif' font-weight="bold" font-size="8.2" fill="#111" stroke="#111" stroke-width="0.15">*<tspan font-style="italic">P</tspan>=.0001</text>
<text x="453.6" y="335.7" font-family='"Liberation Serif", serif' font-weight="bold" font-size="8.6" text-anchor="middle" fill="#111" stroke="#111" stroke-width="0.12">miR-146a</text>
<rect x="389.0" y="346.7" width="128.2" height="105.0" fill="none" stroke="#bcbcbc" stroke-width="1.5"/>
<line x1="387.0" y1="450.8" x2="389.0" y2="450.8" stroke="#bcbcbc" stroke-width="0.8"/>
<text transform="translate(385.0,450.8) rotate(-90)" font-family='"Liberation Serif", serif' font-weight="bold" font-size="7.0" text-anchor="middle" fill="#1a1a1a" stroke="#1a1a1a" stroke-width="0.2">0</text>
<line x1="387.0" y1="435.4" x2="389.0" y2="435.4" stroke="#bcbcbc" stroke-width="0.8"/>
<text transform="translate(385.0,435.4) rotate(-90)" font-family='"Liberation Serif", serif' font-weight="bold" font-size="7.0" text-anchor="middle" fill="#1a1a1a" stroke="#1a1a1a" stroke-width="0.2">10</text>
<line x1="387.0" y1="420.0" x2="389.0" y2="420.0" stroke="#bcbcbc" stroke-width="0.8"/>
<text transform="translate(385.0,420.0) rotate(-90)" font-family='"Liberation Serif", serif' font-weight="bold" font-size="7.0" text-anchor="middle" fill="#1a1a1a" stroke="#1a1a1a" stroke-width="0.2">20</text>
<line x1="387.0" y1="404.6" x2="389.0" y2="404.6" stroke="#bcbcbc" stroke-width="0.8"/>
<text transform="translate(385.0,404.6) rotate(-90)" font-family='"Liberation Serif", serif' font-weight="bold" font-size="7.0" text-anchor="middle" fill="#1a1a1a" stroke="#1a1a1a" stroke-width="0.2">30</text>
<line x1="387.0" y1="389.2" x2="389.0" y2="389.2" stroke="#bcbcbc" stroke-width="0.8"/>
<text transform="translate(385.0,389.2) rotate(-90)" font-family='"Liberation Serif", serif' font-weight="bold" font-size="7.0" text-anchor="middle" fill="#1a1a1a" stroke="#1a1a1a" stroke-width="0.2">40</text>
<line x1="387.0" y1="373.6" x2="389.0" y2="373.6" stroke="#bcbcbc" stroke-width="0.8"/>
<text transform="translate(385.0,373.6) rotate(-90)" font-family='"Liberation Serif", serif' font-weight="bold" font-size="7.0" text-anchor="middle" fill="#1a1a1a" stroke="#1a1a1a" stroke-width="0.2">50</text>
<line x1="387.0" y1="358.3" x2="389.0" y2="358.3" stroke="#bcbcbc" stroke-width="0.8"/>
<text transform="translate(385.0,358.3) rotate(-90)" font-family='"Liberation Serif", serif' font-weight="bold" font-size="7.0" text-anchor="middle" fill="#1a1a1a" stroke="#1a1a1a" stroke-width="0.2">60</text>
<line x1="405.5" y1="421.2" x2="405.5" y2="425.5" stroke="#b4b4b4" stroke-width="1"/>
<line x1="400.7" y1="421.2" x2="411.1" y2="421.2" stroke="#9a9a9a" stroke-width="1"/>
<line x1="405.5" y1="441.2" x2="405.5" y2="446.2" stroke="#b4b4b4" stroke-width="1"/>
<line x1="400.7" y1="446.2" x2="411.1" y2="446.2" stroke="#9a9a9a" stroke-width="1"/>
<rect x="396.6" y="425.9" width="18.4" height="14.9" fill="#3a46a4" stroke="#2c3588" stroke-width="0.8"/>
<line x1="396.2" y1="438.0" x2="415.5" y2="438.0" stroke="#17187a" stroke-width="1.5"/>
<path d="M404.4 365.5h3.0M405.9 364.0v3.0" stroke="#777" stroke-width="0.8"/>
<line x1="429.5" y1="360.9" x2="429.5" y2="390.2" stroke="#b4b4b4" stroke-width="1"/>
<line x1="424.4" y1="360.9" x2="434.8" y2="360.9" stroke="#9a9a9a" stroke-width="1"/>
<line x1="429.5" y1="436.6" x2="429.5" y2="442.0" stroke="#b4b4b4" stroke-width="1"/>
<line x1="424.4" y1="442.0" x2="434.8" y2="442.0" stroke="#9a9a9a" stroke-width="1"/>
<rect x="420.4" y="390.6" width="18.4" height="45.6" fill="#ffd804" stroke="#dcb600" stroke-width="0.8"/>
<line x1="420.0" y1="415.4" x2="439.2" y2="415.4" stroke="#5a4800" stroke-width="1.5"/>
<line x1="453.5" y1="424.2" x2="453.5" y2="428.0" stroke="#b4b4b4" stroke-width="1"/>
<line x1="448.2" y1="424.2" x2="458.6" y2="424.2" stroke="#9a9a9a" stroke-width="1"/>
<line x1="453.5" y1="443.8" x2="453.5" y2="446.2" stroke="#b4b4b4" stroke-width="1"/>
<line x1="448.2" y1="446.2" x2="458.6" y2="446.2" stroke="#9a9a9a" stroke-width="1"/>
<rect x="444.1" y="428.4" width="18.4" height="14.9" fill="#0db24c" stroke="#0b8c3c" stroke-width="0.8"/>
<line x1="443.8" y1="434.2" x2="463.0" y2="434.2" stroke="#07742e" stroke-width="1.5"/>
<line x1="476.5" y1="430.8" x2="476.5" y2="438.0" stroke="#b4b4b4" stroke-width="1"/>
<line x1="471.8" y1="430.8" x2="482.2" y2="430.8" stroke="#9a9a9a" stroke-width="1"/>
<line x1="476.5" y1="444.5" x2="476.5" y2="447.5" stroke="#b4b4b4" stroke-width="1"/>
<line x1="471.8" y1="447.5" x2="482.2" y2="447.5" stroke="#9a9a9a" stroke-width="1"/>
<rect x="467.4" y="438.4" width="19.2" height="5.7" fill="#fa7d1e" stroke="#d0641a" stroke-width="0.8"/>
<line x1="467.0" y1="440.8" x2="487.0" y2="440.8" stroke="#9a3c00" stroke-width="1.5"/>
<line x1="500.5" y1="415.4" x2="500.5" y2="431.2" stroke="#b4b4b4" stroke-width="1"/>
<line x1="495.8" y1="415.4" x2="506.2" y2="415.4" stroke="#9a9a9a" stroke-width="1"/>
<line x1="500.5" y1="443.8" x2="500.5" y2="446.2" stroke="#b4b4b4" stroke-width="1"/>
<line x1="495.8" y1="446.2" x2="506.2" y2="446.2" stroke="#9a9a9a" stroke-width="1"/>
<rect x="491.6" y="431.6" width="18.7" height="11.7" fill="#a09432" stroke="#807626" stroke-width="0.8"/>
<line x1="491.2" y1="438.0" x2="510.8" y2="438.0" stroke="#584a00" stroke-width="1.5"/>
<path d="M499.5 350.8h3.0M501.0 349.3v3.0" stroke="#777" stroke-width="0.8"/>
<text x="389.9" y="463.6" textLength="29.9" lengthAdjust="spacingAndGlyphs" font-family='"Liberation Serif", serif' font-weight="bold" font-size="8.2" fill="#111" stroke="#111" stroke-width="0.15">*<tspan font-style="italic">P</tspan>=.0151</text>
<line x1="17.2" y1="169.6" x2="17.2" y2="305" stroke="#c8c8c8" stroke-width="1.2"/>
<text transform="translate(7.0,282.9) rotate(-90)" x="0" y="0" textLength="94" lengthAdjust="spacingAndGlyphs" font-family='"Liberation Serif", serif' font-weight="bold" font-size="8.0" fill="#111">miRNAs relative expression</text>
<rect x="34.9" y="490.4" width="6.4" height="5.9" fill="#3a46a4" stroke="#2c3588" stroke-width="0.6"/>
<text x="56.0" y="497.2" font-family='"Liberation Serif", serif' font-weight="bold" font-size="10.5" fill="#111">11q_del</text>
<rect x="120.8" y="490.4" width="6.4" height="5.9" fill="#ffd804" stroke="#dcb600" stroke-width="0.6"/>
<text x="143" y="497.2" font-family='"Liberation Serif", serif' font-weight="bold" font-size="10.5" fill="#111">Trisomy_12</text>
<rect x="221.60000000000002" y="490.4" width="6.4" height="5.9" fill="#0db24c" stroke="#0b8c3c" stroke-width="0.6"/>
<text x="242.4" y="497.2" font-family='"Liberation Serif", serif' font-weight="bold" font-size="10.6" fill="#111">13q_del</text>
<rect x="306.6" y="490.4" width="6.4" height="5.9" fill="#fa7d1e" stroke="#d0641a" stroke-width="0.6"/>
<text x="328.0" y="497.2" font-family='"Liberation Serif", serif' font-weight="bold" font-size="10.5" fill="#111">17p_del</text>
<rect x="393.7" y="490.4" width="6.4" height="5.9" fill="#a09432" stroke="#807626" stroke-width="0.6"/>
<text x="415.0" y="497.2" font-family='"Liberation Serif", serif' font-weight="bold" font-size="10.75" fill="#111">Normal karyotype</text>
</svg>
</body></html>
